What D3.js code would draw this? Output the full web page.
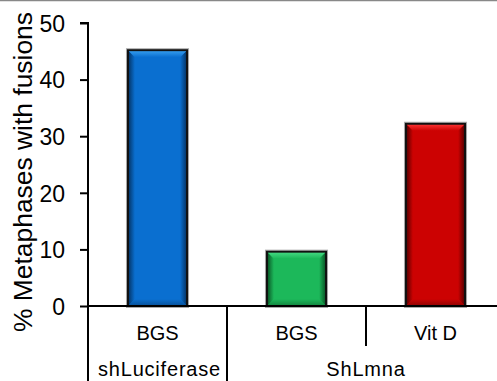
<!DOCTYPE html>
<html><head><meta charset="utf-8">
<script src="https://cdn.jsdelivr.net/npm/d3@7"></script>
<style>body{margin:0;background:#fff;}svg{display:block;font-family:"Liberation Sans",Arial,sans-serif;}</style>
</head><body>
<script>
const categories = ["BGS", "BGS", "Vit D"];
const values = [45.2, 9.6, 32.2];
const groups = [{name:"shLuciferase", from:0, to:0}, {name:"ShLmna", from:1, to:2}];
const yTicks = [0, 10, 20, 30, 40, 50];
const yTitle = "% Metaphases with fusions";
const palettes = [
  {main:"#0a6fd0", light:"#3aa2f2", dark:"#03305f"},
  {main:"#1cb85a", light:"#48dc86", dark:"#084f22"},
  {main:"#cc0202", light:"#ff3838", dark:"#4f0000"}
];

const W = 497, H = 381;
const svg = d3.select("body").append("svg").attr("width", W).attr("height", H);

svg.append("line").attr("x1",0).attr("x2",W).attr("y1",0.5).attr("y2",0.5)
  .attr("stroke","#888").attr("stroke-width",1.5);

const x = d3.scaleBand().domain(d3.range(categories.length)).range([88, 505]);
const y = d3.scaleLinear().domain([0, 50]).range([306, 23]);

const defs = svg.append("defs");
palettes.forEach((p, i) => {
  const mk = (id, x1, x2, y1, y2, c0) => {
    const g = defs.append("linearGradient").attr("id", id).attr("x1",x1).attr("x2",x2).attr("y1",y1).attr("y2",y2);
    g.append("stop").attr("offset",0).attr("stop-color",c0);
    g.append("stop").attr("offset",1).attr("stop-color",p.main);
  };
  mk("gl"+i,0,1,0,0,p.dark);
  mk("gr"+i,1,0,0,0,p.dark);
  mk("gt"+i,0,0,0,1,p.light);
  mk("gb"+i,0,0,1,0,p.dark);
});

const bw = x.bandwidth() * 0.425;
const bev = 7;
values.forEach((v, i) => {
  const cx = x(i) + x.bandwidth()/2;
  const x0 = cx - bw/2, x1 = cx + bw/2;
  const y0 = y(v), y1 = y(0);
  const g = svg.append("g");
  g.append("rect").attr("x",x0-1.5).attr("y",y0-1.5).attr("width",bw+3).attr("height",y1-y0+3)
    .attr("fill","none").attr("stroke","#aaa").attr("stroke-width",1);
  g.append("rect").attr("x",x0).attr("y",y0).attr("width",bw).attr("height",y1-y0)
    .attr("fill",palettes[i].main);
  const b = Math.min(bev, (y1-y0)/2);
  g.append("polygon").attr("points",[[x0,y0],[x0+b,y0+b],[x0+b,y1-b],[x0,y1]].join(" ")).attr("fill","url(#gl"+i+")");
  g.append("polygon").attr("points",[[x1,y0],[x1-b,y0+b],[x1-b,y1-b],[x1,y1]].join(" ")).attr("fill","url(#gr"+i+")");
  g.append("polygon").attr("points",[[x0,y0],[x1,y0],[x1-b,y0+b],[x0+b,y0+b]].join(" ")).attr("fill","url(#gt"+i+")");
  g.append("polygon").attr("points",[[x0,y1],[x1,y1],[x1-b,y1-b],[x0+b,y1-b]].join(" ")).attr("fill","url(#gb"+i+")").attr("opacity",0.5);
  g.append("rect").attr("x",x0).attr("y",y0).attr("width",bw).attr("height",y1-y0)
    .attr("fill","none").attr("stroke","#111").attr("stroke-width",2);
});

const yAxis = d3.axisLeft(y).tickValues(yTicks).tickSize(8).tickPadding(15);
const ya = svg.append("g").attr("transform","translate(88,0)").call(yAxis);
ya.select(".domain").attr("stroke","#000").attr("stroke-width",2).attr("d","M-8,"+y(50)+"H0V"+H);
ya.selectAll(".tick line").attr("stroke","#000").attr("stroke-width",2);
ya.selectAll(".tick text").attr("font-size",23).attr("fill","#000").attr("dy","0.36em");

svg.append("line").attr("x1",88).attr("x2",W).attr("y1",y(0)).attr("y2",y(0)).attr("stroke","#000").attr("stroke-width",2);

svg.append("line").attr("x1",x(1)).attr("x2",x(1)).attr("y1",y(0)).attr("y2",H).attr("stroke","#000").attr("stroke-width",2);
svg.append("line").attr("x1",x(2)).attr("x2",x(2)).attr("y1",y(0)).attr("y2",346).attr("stroke","#000").attr("stroke-width",2);

categories.forEach((c, i) => {
  svg.append("text").attr("x", x(i)+x.bandwidth()/2).attr("y",340)
    .attr("text-anchor","middle").attr("font-size",20).attr("fill","#000").text(c);
});
groups.forEach(gp => {
  const cx = (x(gp.from) + x(gp.to) + x.bandwidth())/2;
  svg.append("text").attr("x", gp.from===0 ? 159.5 : cx).attr("y",376)
    .attr("text-anchor","middle").attr("font-size",20).attr("fill","#000")
    .attr("letter-spacing", 0.8).text(gp.name);
});

svg.append("text").attr("transform","translate(32,172) rotate(-90)")
  .attr("text-anchor","middle").attr("font-size",26).attr("fill","#000")
  .attr("textLength",320).attr("lengthAdjust","spacingAndGlyphs").text(yTitle);
</script>
</body></html>
